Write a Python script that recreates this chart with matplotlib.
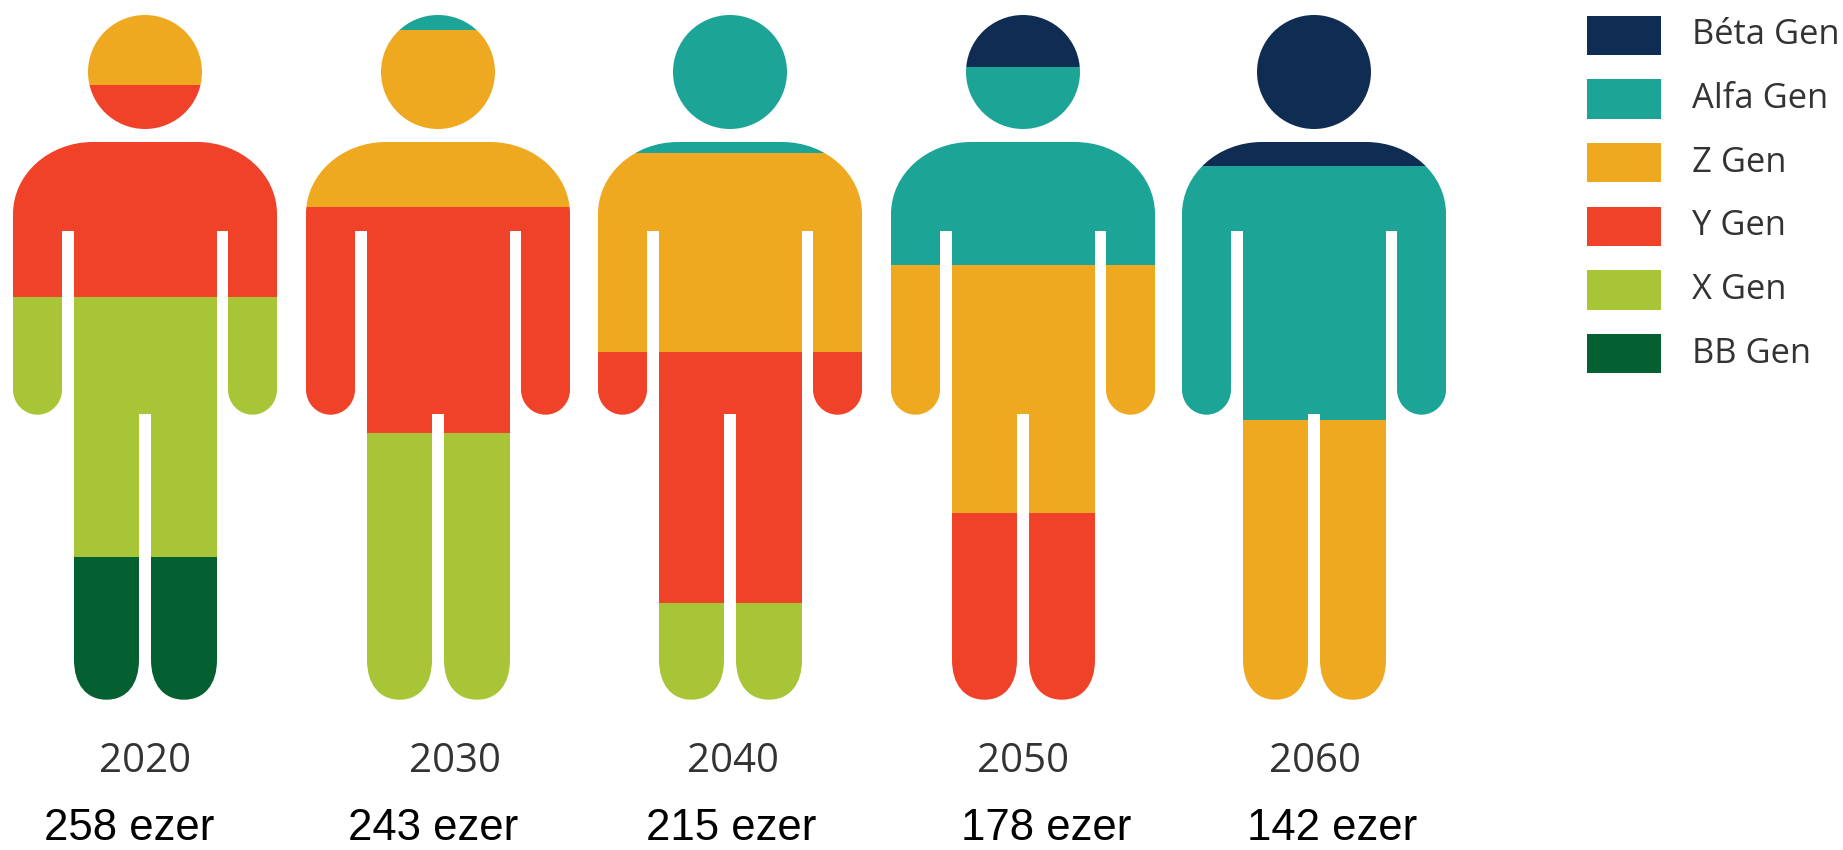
import matplotlib
matplotlib.use('Agg')
import matplotlib.pyplot as plt
from matplotlib.path import Path
from matplotlib.patches import PathPatch
from matplotlib.transforms import Affine2D

# Data: share of each figure's height, bottom to top, order as in generations
years = ['2020', '2030', '2040', '2050', '2060']
totals = ['258 ezer', '243 ezer', '215 ezer', '178 ezer', '142 ezer']
generations = ['BB Gen', 'X Gen', 'Y Gen', 'Z Gen', 'Alfa Gen', 'Béta Gen']
bb_gen = [20.9, 0, 0, 0, 0]
x_gen = [37.9, 39.0, 14.1, 0, 0]
y_gen = [30.9, 33.0, 36.7, 27.3, 0]
z_gen = [10.3, 25.7, 29.0, 36.1, 40.9]
alfa_gen = [0, 2.3, 20.2, 29.0, 37.0]
beta_gen = [0, 0, 0, 7.6, 22.1]
shares = [bb_gen, x_gen, y_gen, z_gen, alfa_gen, beta_gen]

colors = ['#056031', '#A8C537', '#F04228', '#EEA920', '#1CA596', '#0F2D52']

W, H = 1843, 850
PERSON_W, PERSON_H = 264, 685
PERSON_TOP = 14.7
person_left = [13, 306, 598, 891, 1182]
year_x = [145, 455, 733, 1023, 1315]
total_x = [129, 433, 731, 1046, 1332]


def curve(verts, codes, a, c, b, k=0.5523):
    # quarter ellipse from a to b with corner c, larger k is squarer
    verts += [(a[0] + (c[0] - a[0]) * k, a[1] + (c[1] - a[1]) * k),
              (b[0] + (c[0] - b[0]) * k, b[1] + (c[1] - b[1]) * k), b]
    codes += [Path.CURVE4] * 3


def person_path():
    # outline in pixels, y going down from the top of the head
    top, arm_end, gap_top, crotch, foot = 127.3, 400, 216.3, 399.3, 685
    sx, sy = 80, 72
    leg_r = 40
    leg_k = 0.62
    v = [(0, top + sy)]
    c = [Path.MOVETO]
    curve(v, c, (0, top + sy), (0, top), (sx, top))
    v.append((264 - sx, top)); c.append(Path.LINETO)
    curve(v, c, (264 - sx, top), (264, top), (264, top + sy))
    v.append((264, arm_end - 25)); c.append(Path.LINETO)
    curve(v, c, (264, arm_end - 25), (264, arm_end), (239.5, arm_end))
    curve(v, c, (239.5, arm_end), (215, arm_end), (215, arm_end - 25))
    v += [(215, gap_top), (204, gap_top), (204, foot - leg_r)]
    c += [Path.LINETO] * 3
    curve(v, c, (204, foot - leg_r), (204, foot), (171, foot), leg_k)
    curve(v, c, (171, foot), (138, foot), (138, foot - leg_r), leg_k)
    v += [(138, crotch), (126, crotch), (126, foot - leg_r)]
    c += [Path.LINETO] * 3
    curve(v, c, (126, foot - leg_r), (126, foot), (93.5, foot), leg_k)
    curve(v, c, (93.5, foot), (61, foot), (61, foot - leg_r), leg_k)
    v += [(61, gap_top), (49, gap_top), (49, arm_end - 25)]
    c += [Path.LINETO] * 3
    curve(v, c, (49, arm_end - 25), (49, arm_end), (24.5, arm_end))
    curve(v, c, (24.5, arm_end), (0, arm_end), (0, arm_end - 25))
    v += [(0, top + sy)]
    c += [Path.CLOSEPOLY]
    body = Path(v, c)
    head = Path.circle((132, 57.3), 57)
    to_data = Affine2D().scale(1, -100 / PERSON_H).translate(0, 100)
    return Path.make_compound_path(head, body).transformed(to_data)


fig = plt.figure(figsize=(W / 100, H / 100), dpi=100, facecolor='white')

for i, year in enumerate(years):
    ax = fig.add_axes([person_left[i] / W, 1 - (PERSON_TOP + PERSON_H) / H,
                       PERSON_W / W, PERSON_H / H])
    ax.set_xlim(0, PERSON_W)
    ax.set_ylim(0, 100)
    ax.axis('off')
    clip = PathPatch(person_path(), transform=ax.transData, fc='none', ec='none')
    ax.add_patch(clip)
    bottom = 0
    for j in range(len(generations)):
        val = shares[j][i]
        if val == 0:
            continue
        bars = ax.bar(PERSON_W / 2, val, width=PERSON_W, bottom=bottom,
                      color=colors[j], linewidth=0)
        bars[0].set_clip_path(clip)
        bottom += val
    fig.text(year_x[i] / W, 1 - 762 / H, year, ha='center', va='center',
             fontsize=29, color='#333333', family='Open Sans')
    fig.text(total_x[i] / W, 1 - 828 / H, totals[i], ha='center', va='center',
             fontsize=31.5, color='black', family='Liberation Sans')

# Legend, top to bottom
leg = fig.add_axes([1587 / W, 1 - 385.3 / H, 74 / W, 381.6 / H])
leg.set_xlim(0, 1)
leg.set_ylim(5.5, -0.5)
leg.axis('off')
names = generations[::-1]
leg.barh(range(6), [1] * 6, height=0.62, color=colors[::-1], linewidth=0)
for k, name in enumerate(names):
    leg.text(1.42, k, name, ha='left', va='center', fontsize=24.8,
             color='#333333', family='Open Sans', clip_on=False)

plt.savefig('out.png', dpi=100)
